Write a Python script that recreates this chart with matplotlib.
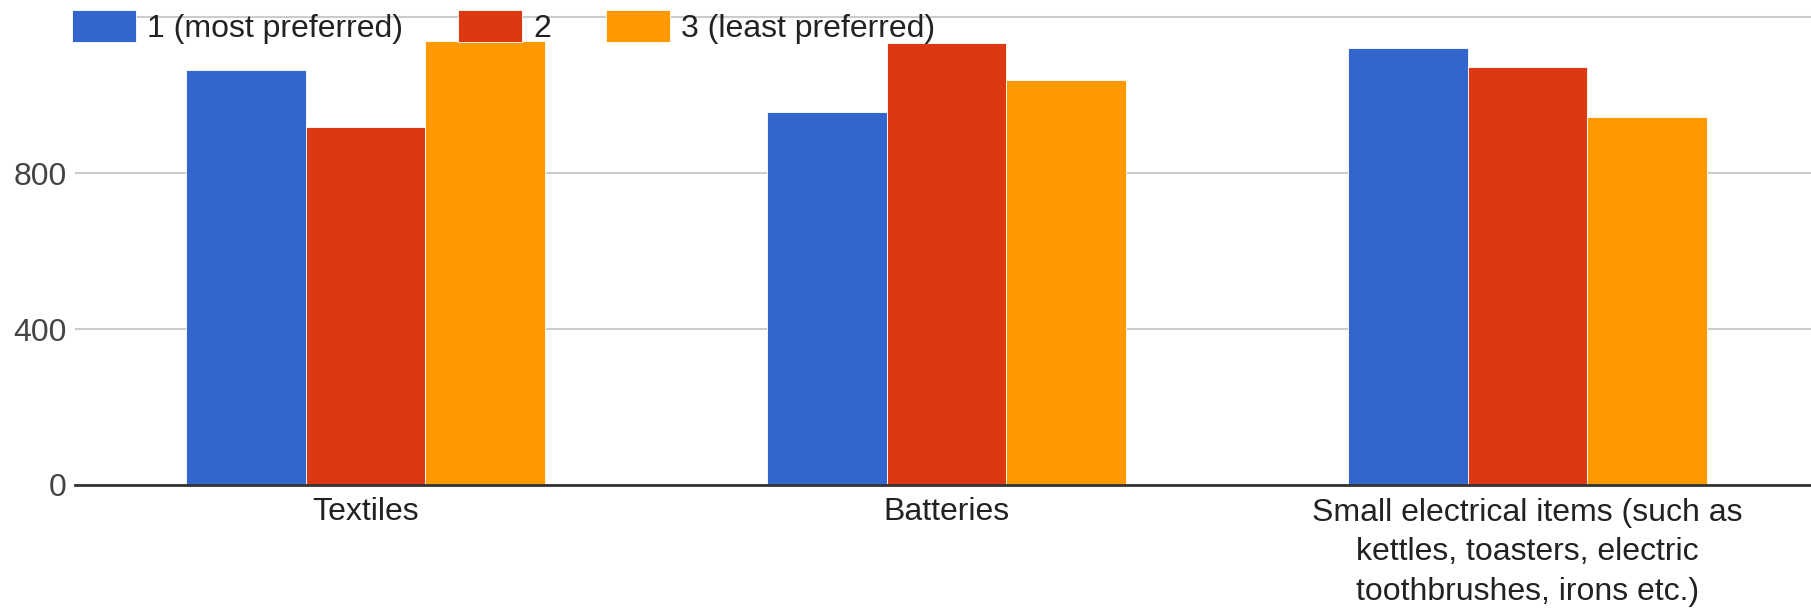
import numpy as np
import matplotlib
matplotlib.use("Agg")
import matplotlib.pyplot as plt

plt.rcParams["font.family"] = ["Liberation Sans", "DejaVu Sans"]

# Survey counts per item category, by preference rank
categories = [
    "Textiles",
    "Batteries",
    "Small electrical items (such as\nkettles, toasters, electric\ntoothbrushes, irons etc.)",
]
series_names = ["1 (most preferred)", "2", "3 (least preferred)"]
rank1 = [1066, 957, 1120]
rank2 = [919, 1133, 1073]
rank3 = [1139, 1038, 944]
series_colors = ["#3366cc", "#dc3912", "#ff9900"]

y_ticks = [0, 400, 800, 1200]
y_tick_labels = ["0", "400", "800", ""]

W, H = 1811, 608
fig = plt.figure(figsize=(W / 100, H / 100), dpi=100)
ax = fig.add_axes([75 / W, (H - 485) / H, 1 - 75 / W, (485 - 13.4) / H])

x = np.arange(len(categories))
width = 0.206
for i, (vals, name, col) in enumerate(zip([rank1, rank2, rank3], series_names, series_colors)):
    ax.bar(x + (i - 1) * width, vals, width, color=col, label=name,
           edgecolor="white", linewidth=0.6, zorder=2)

ax.set_xlim(-0.5, 2.488)
ax.set_ylim(0, 1210)
ax.set_yticks(y_ticks)
ax.set_yticklabels(y_tick_labels)
ax.set_xticks(x)
ax.set_xticklabels(categories, linespacing=1.43)

ax.grid(axis="y", color="#cccccc", linewidth=1.5, zorder=0)
ax.set_axisbelow(True)
for side in ["top", "right", "left"]:
    ax.spines[side].set_visible(False)
ax.spines["bottom"].set_color("#333333")
ax.spines["bottom"].set_linewidth(2)
ax.spines["bottom"].set_zorder(3)

ax.tick_params(axis="both", length=0)
ax.tick_params(axis="y", labelsize=23, labelcolor="#444444", pad=6)
ax.tick_params(axis="x", labelsize=23, labelcolor="#222222", pad=9)

fig.legend(loc="upper left", bbox_to_anchor=(72 / W, 1 - 10 / H), ncol=3,
           frameon=False, fontsize=23, labelcolor="#222222",
           handlelength=2.0, handleheight=1.15, handletextpad=0.35,
           columnspacing=1.72, borderaxespad=0, borderpad=0)

fig.savefig("out.png", dpi=100, facecolor="white")
